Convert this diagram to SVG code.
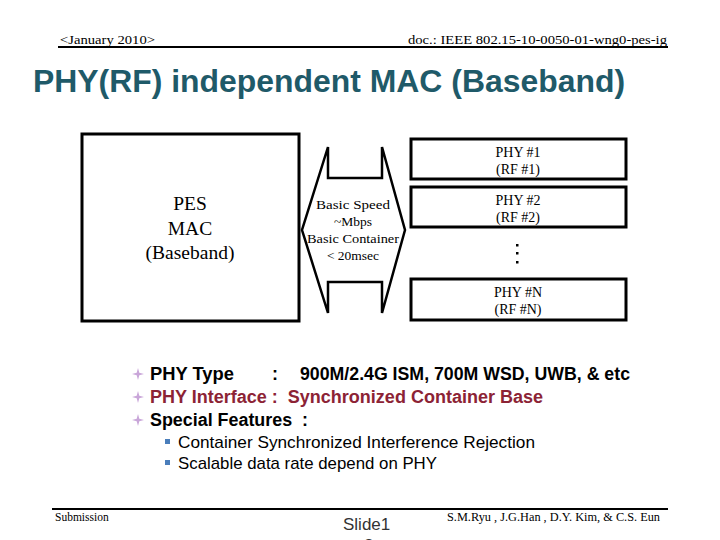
<svg xmlns="http://www.w3.org/2000/svg" width="720" height="540" viewBox="0 0 720 540">
<style>
.serif{font-family:"Liberation Serif","Times New Roman",serif;fill:#000}
.sans{font-family:"Liberation Sans",Arial,sans-serif}
.box{fill:none;stroke:#000;stroke-width:3}
.c{text-anchor:middle}
</style>
<rect width="720" height="540" fill="#fff"/>
<g id="header">
<text class="serif" x="60" y="44" font-size="13.5" textLength="95" lengthAdjust="spacingAndGlyphs">&lt;January 2010&gt;</text>
<text class="serif" x="667" y="44" font-size="13.5" text-anchor="end" textLength="259" lengthAdjust="spacingAndGlyphs">doc.: IEEE 802.15-10-0050-01-wng0-pes-ig</text>
<line x1="58" y1="47" x2="668" y2="47" stroke="#000" stroke-width="2"/>
</g>
<text id="title" class="sans" x="33" y="92" font-size="32" font-weight="bold" fill="#1F5A69" textLength="592" lengthAdjust="spacingAndGlyphs">PHY(RF) independent MAC (Baseband)</text>
<g id="mac">
<rect class="box" x="82" y="134" width="217" height="187"/>
<text class="serif c" x="190" y="210" font-size="19.5">PES</text>
<text class="serif c" x="190" y="235" font-size="19.5">MAC</text>
<text class="serif c" x="190" y="259" font-size="19.5">(Baseband)</text>
</g>
<g id="connectors">
<path d="M328,147 L328,178 L382,178 L382,147 L405,230 L382,313 L382,282 L328,282 L328,313 L302,230 Z" fill="#fff" stroke="#000" stroke-width="2.5" stroke-linejoin="miter"/>
<text class="serif c" x="353" y="209" font-size="13.5" textLength="74" lengthAdjust="spacingAndGlyphs">Basic Speed</text>
<text class="serif c" x="353" y="226" font-size="13.5">~Mbps</text>
<text class="serif c" x="353" y="243" font-size="13.5" textLength="92" lengthAdjust="spacingAndGlyphs">Basic Container</text>
<text class="serif c" x="353" y="260" font-size="13.5">&lt; 20msec</text>
</g>
<g id="phy1">
<rect class="box" x="411" y="139" width="215" height="40"/>
<text class="serif c" x="518" y="157" font-size="14">PHY #1</text>
<text class="serif c" x="518" y="174" font-size="14">(RF #1)</text>
</g>
<g id="phy2">
<rect class="box" x="411" y="187" width="215" height="40"/>
<text class="serif c" x="518" y="205" font-size="14">PHY #2</text>
<text class="serif c" x="518" y="222" font-size="14">(RF #2)</text>
</g>
<g id="dots" fill="#000">
<rect x="516" y="244" width="2.5" height="2.5"/>
<rect x="516" y="252" width="2.5" height="2.5"/>
<rect x="516" y="261" width="2.5" height="2.5"/>
</g>
<g id="phyN">
<rect class="box" x="411" y="279" width="215" height="41"/>
<text class="serif c" x="518" y="297" font-size="14">PHY #N</text>
<text class="serif c" x="518" y="314" font-size="14">(RF #N)</text>
</g>
<defs>
<g id="star" fill="#C9A6D9">
<path d="M0,-6 L1.3,-1.3 L6,0 L1.3,1.3 L0,6 L-1.3,1.3 L-6,0 L-1.3,-1.3 Z"/>
</g>
</defs>
<g id="bullets" class="sans" font-weight="bold" font-size="18">
<use href="#star" x="138" y="374"/>
<use href="#star" x="138" y="397"/>
<use href="#star" x="138" y="420"/>
<text x="150" y="380" fill="#000" textLength="84" lengthAdjust="spacingAndGlyphs">PHY Type</text>
<text x="272" y="380" fill="#000">:</text>
<text x="300" y="380" fill="#000" textLength="330" lengthAdjust="spacingAndGlyphs">900M/2.4G ISM, 700M WSD, UWB, &amp; etc</text>
<text x="150" y="403" fill="#8C2335" xml:space="preserve" textLength="393" lengthAdjust="spacingAndGlyphs">PHY Interface :  Synchronized Container Base</text>
<text x="150" y="426" fill="#000" xml:space="preserve" textLength="158" lengthAdjust="spacingAndGlyphs">Special Features  :</text>
</g>
<g id="subbullets" class="sans" font-size="17" fill="#000">
<rect x="165" y="439" width="5" height="5" fill="#4A7EBB"/>
<rect x="165" y="460" width="5" height="5" fill="#4A7EBB"/>
<text x="178" y="448" textLength="357" lengthAdjust="spacingAndGlyphs">Container Synchronized Interference Rejection</text>
<text x="178" y="469" textLength="259" lengthAdjust="spacingAndGlyphs">Scalable data rate depend on PHY</text>
</g>
<g id="footer">
<line x1="52" y1="509" x2="668" y2="509" stroke="#000" stroke-width="2"/>
<text class="serif" x="55" y="521" font-size="11.5">Submission</text>
<text class="sans" x="343" y="530" font-size="17" fill="#333">Slide1</text>
<text class="sans" x="364" y="551" font-size="17" fill="#333">2</text>
<text class="serif" x="447" y="521" font-size="11.5" textLength="213" lengthAdjust="spacingAndGlyphs">S.M.Ryu , J.G.Han , D.Y. Kim, &amp; C.S. Eun</text>
</g>
</svg>
